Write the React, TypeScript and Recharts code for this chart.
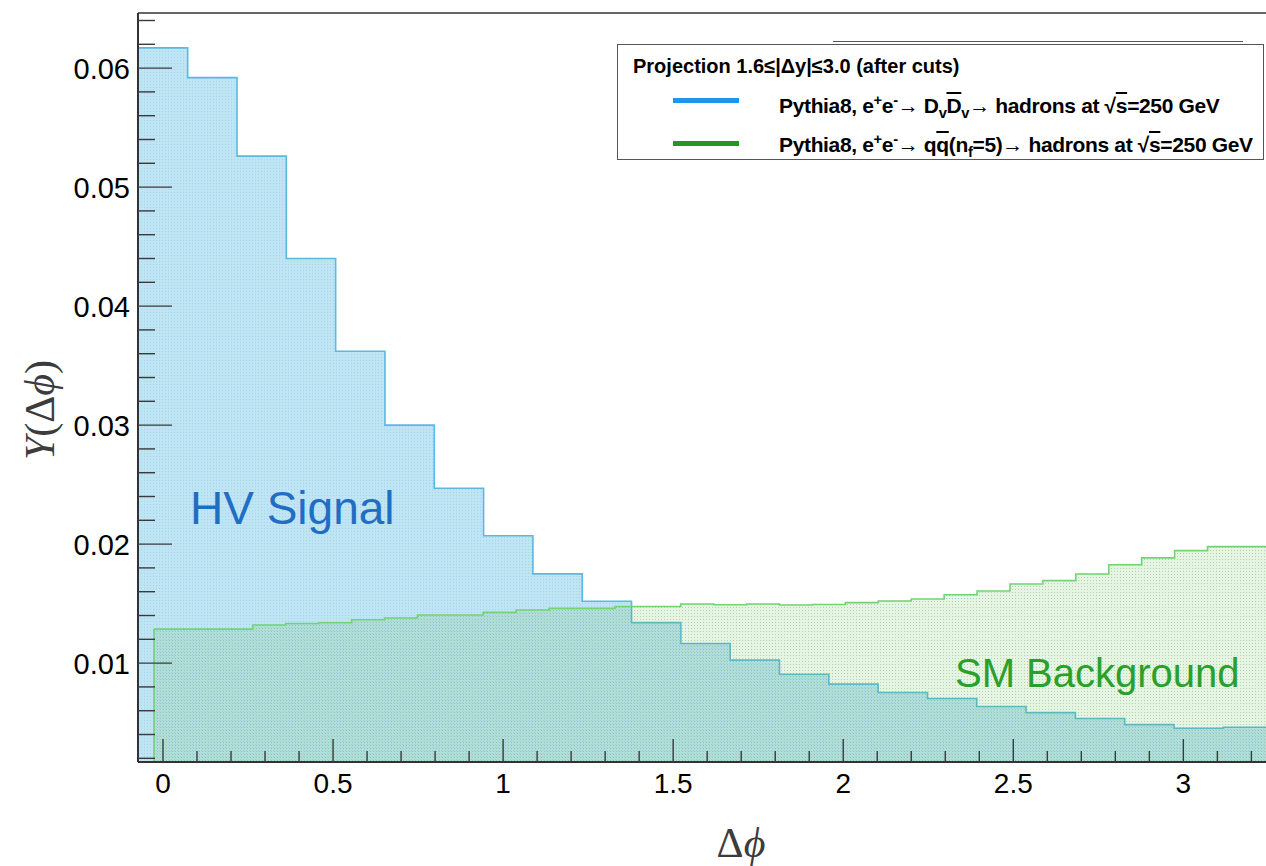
import React from "react";
import {
  ComposedChart,
  Area,
  XAxis,
  YAxis,
  ReferenceLine,
  Legend,
} from "recharts";

// bin contents of the two Δφ histograms (1.6 ≤ |Δy| ≤ 3.0, after cuts)
const signalValues = [
  0.0617, 0.0592, 0.0526, 0.044, 0.0362, 0.03, 0.0247, 0.0207, 0.0175, 0.0152,
  0.0134, 0.01165, 0.01025, 0.00907, 0.00823, 0.00753, 0.00702, 0.00635,
  0.00584, 0.00534, 0.00483, 0.00453, 0.00461,
];
const backgroundValues = [
  0.01286, 0.01286, 0.01286, 0.0132, 0.01333, 0.01339, 0.01364, 0.01379,
  0.01404, 0.01404, 0.01426, 0.01446, 0.0146, 0.0146, 0.01476, 0.01476,
  0.01497, 0.01491, 0.01497, 0.01488, 0.01493, 0.01508, 0.01522, 0.01539,
  0.01575, 0.01606, 0.01665, 0.01693, 0.01749, 0.01827, 0.01884, 0.01945,
  0.01979, 0.01979,
];

// binning: first low edge and bin width
const signalLow = -0.0724;
const signalWidth = 0.145;
const backgroundLow = -0.0265;
const backgroundWidth = 0.0968;

const xTickLabels = ["0", "0.5", "1", "1.5", "2", "2.5", "3"];
const yTickLabels = ["0.01", "0.02", "0.03", "0.04", "0.05", "0.06"];

const X_MIN = -0.0735;
const X_MAX = 3.243;
const Y_MIN = 0.00169;
const Y_MAX = 0.06463;

const xMajor = xTickLabels.map(Number);
const yMajor = yTickLabels.map(Number);
const xTicks = Array.from({ length: 33 }, (_, i) => +(i * 0.1).toFixed(2));
const yTicks = Array.from({ length: 32 }, (_, i) => +((i + 1) * 0.002).toFixed(3));

const binEdges = (lo: number, w: number, n: number) =>
  Array.from({ length: n + 1 }, (_, i) => lo + i * w);

const binValue = (x: number, lo: number, w: number, vals: number[]) => {
  const i = Math.floor((x - lo) / w + 1e-6);
  if (i < 0) return null;
  return vals[Math.min(i, vals.length - 1)];
};

const edgeList = [
  ...binEdges(signalLow, signalWidth, signalValues.length),
  ...binEdges(backgroundLow, backgroundWidth, backgroundValues.length),
].sort((a, b) => a - b);

const table = edgeList.map((x) => ({
  x,
  signal: binValue(x, signalLow, signalWidth, signalValues),
  background: binValue(x, backgroundLow, backgroundWidth, backgroundValues),
}));

const isMajor = (v: number, list: number[]) =>
  list.some((m) => Math.abs(m - v) < 1e-6);

const TICK_COLOR = "#3a3a3a";
const SANS = "'Liberation Sans', Arial, Helvetica, sans-serif";
const SERIF = "'Liberation Serif', 'DejaVu Serif', serif";

function XTick(props: any) {
  const { x, y, payload } = props;
  const major = isMajor(payload.value, xMajor);
  return (
    <g>
      <line
        x1={x}
        x2={x}
        y1={y}
        y2={y - (major ? 23 : 11)}
        stroke={TICK_COLOR}
        strokeWidth={1.4}
      />
      {major && (
        <text
          x={x}
          y={y + 31}
          textAnchor="middle"
          fontSize={28}
          fontFamily={SANS}
          fill="#000"
        >
          {xTickLabels[xMajor.findIndex((m) => Math.abs(m - payload.value) < 1e-6)]}
        </text>
      )}
    </g>
  );
}

function YTick(props: any) {
  const { x, y, payload } = props;
  const major = isMajor(payload.value, yMajor);
  return (
    <g>
      <line
        x1={x}
        x2={x + (major ? 34 : 17)}
        y1={y}
        y2={y}
        stroke={TICK_COLOR}
        strokeWidth={1.4}
      />
      {major && (
        <text
          x={x - 8}
          y={y + 11}
          textAnchor="end"
          fontSize={29}
          fontFamily={SANS}
          fill="#000"
        >
          {yTickLabels[yMajor.findIndex((m) => Math.abs(m - payload.value) < 1e-6)]}
        </text>
      )}
    </g>
  );
}

const over = { textDecoration: "overline" } as const;
const sup = { fontSize: "0.7em", verticalAlign: "0.55em" } as const;
const sub = { fontSize: "0.7em", verticalAlign: "-0.35em" } as const;

const legendRows = [
  {
    color: "#1e96f0",
    label: (
      <>
        Pythia8, e<span style={sup}>+</span>e<span style={sup}>-</span>→ D
        <span style={sub}>v</span>
        <span style={over}>D</span>
        <span style={sub}>v</span>→ hadrons at √<span style={over}>s</span>=250 GeV
      </>
    ),
  },
  {
    color: "#1f9a1f",
    label: (
      <>
        Pythia8, e<span style={sup}>+</span>e<span style={sup}>-</span>→ q
        <span style={over}>q</span>(n<span style={sub}>f</span>=5)→ hadrons at √
        <span style={over}>s</span>=250 GeV
      </>
    ),
  },
];

function LegendBox() {
  return (
    <div style={{ position: "relative", width: 647, height: 116 }}>
      <div
        style={{
          position: "absolute",
          left: 216,
          top: -3,
          width: 410,
          borderTop: "1.5px solid #555",
        }}
      />
      <div
        style={{
          position: "absolute",
          inset: 0,
          border: "1.5px solid #555",
          background: "#fff",
          fontFamily: SANS,
          fontWeight: "bold",
          color: "#000",
          whiteSpace: "nowrap",
          lineHeight: "24px",
        }}
      >
        <div style={{ position: "absolute", left: 15, top: 9, fontSize: 20 }}>
          Projection 1.6≤|Δy|≤3.0 (after cuts)
        </div>
        {legendRows.map((row, i) => (
          <React.Fragment key={i}>
            <div
              style={{
                position: "absolute",
                left: 55,
                top: 53 + i * 43,
                width: 66,
                height: 5,
                background: row.color,
              }}
            />
            <div
              style={{
                position: "absolute",
                left: 161,
                top: 43 + i * 39,
                fontSize: 21,
                letterSpacing: -0.35,
              }}
            >
              {row.label}
            </div>
          </React.Fragment>
        ))}
      </div>
    </div>
  );
}

export default function App() {
  return (
    <div
      style={{
        position: "relative",
        width: 1266,
        height: 866,
        background: "#fff",
        overflow: "hidden",
      }}
    >
      <style>{`body{margin:0}`}</style>
      <ComposedChart
        width={1266}
        height={866}
        data={table}
        margin={{ top: 13, right: 0, bottom: 0, left: 0 }}
      >
        <defs>
          <pattern id="signalFill" width="3" height="3" patternUnits="userSpaceOnUse">
            <rect width="3" height="3" fill="#bfe4f3" />
            <rect width="1" height="1" fill="#a3d6ec" />
          </pattern>
          <pattern id="backgroundFill" width="3" height="3" patternUnits="userSpaceOnUse">
            <rect width="3" height="3" fill="rgba(105,190,95,0.17)" />
            <rect x="1" y="1" width="1" height="1" fill="rgba(70,160,60,0.35)" />
          </pattern>
        </defs>

        <Area
          type="stepAfter"
          dataKey="signal"
          stroke="#5bb9df"
          strokeWidth={1.6}
          fill="url(#signalFill)"
          fillOpacity={1}
          dot={false}
          activeDot={false}
          isAnimationActive={false}
        />
        <Area
          type="stepAfter"
          dataKey="background"
          stroke="#72d472"
          strokeWidth={1.6}
          fill="url(#backgroundFill)"
          fillOpacity={1}
          dot={false}
          activeDot={false}
          isAnimationActive={false}
        />
        <ReferenceLine
          segment={[
            { x: backgroundLow, y: Y_MIN },
            { x: backgroundLow, y: backgroundValues[0] },
          ]}
          stroke="#72d472"
          strokeWidth={1.6}
        />
        <ReferenceLine y={Y_MAX} stroke="#333" strokeWidth={1.5} />

        <XAxis
          dataKey="x"
          type="number"
          domain={[X_MIN, X_MAX]}
          allowDataOverflow
          ticks={xTicks}
          interval={0}
          tickSize={0}
          tickMargin={0}
          tick={<XTick />}
          height={104}
          axisLine={{ stroke: "#333", strokeWidth: 2 }}
        />
        <YAxis
          type="number"
          domain={[Y_MIN, Y_MAX]}
          allowDataOverflow
          ticks={yTicks}
          interval={0}
          tickSize={0}
          tickMargin={0}
          tick={<YTick />}
          width={138}
          axisLine={{ stroke: "#333", strokeWidth: 2 }}
        />
        <Legend
          verticalAlign="middle"
          align="center"
          content={() => <LegendBox />}
          wrapperStyle={{ left: 617, top: 44, width: 647, height: 116 }}
        />
      </ComposedChart>

      <svg
        width={1266}
        height={866}
        style={{ position: "absolute", left: 0, top: 0, pointerEvents: "none" }}
      >
        <text x={190} y={524} fontSize={46} fontFamily={SANS} fill="#1f6ec4">
          HV Signal
        </text>
        <text x={955} y={687} fontSize={40} fontFamily={SANS} fill="#2aa02a">
          SM Background
        </text>
        <text
          transform="translate(54,410) rotate(-90)"
          textAnchor="middle"
          fontSize={42}
          fontFamily={SERIF}
          fill="#3c3c3c"
        >
          <tspan fontStyle="italic">Y</tspan>(Δ<tspan fontStyle="italic">ϕ</tspan>)
        </text>
        <text
          x={741}
          y={857}
          textAnchor="middle"
          fontSize={42}
          fontFamily={SERIF}
          fill="#3c3c3c"
        >
          Δ<tspan fontStyle="italic">ϕ</tspan>
        </text>
      </svg>
    </div>
  );
}
